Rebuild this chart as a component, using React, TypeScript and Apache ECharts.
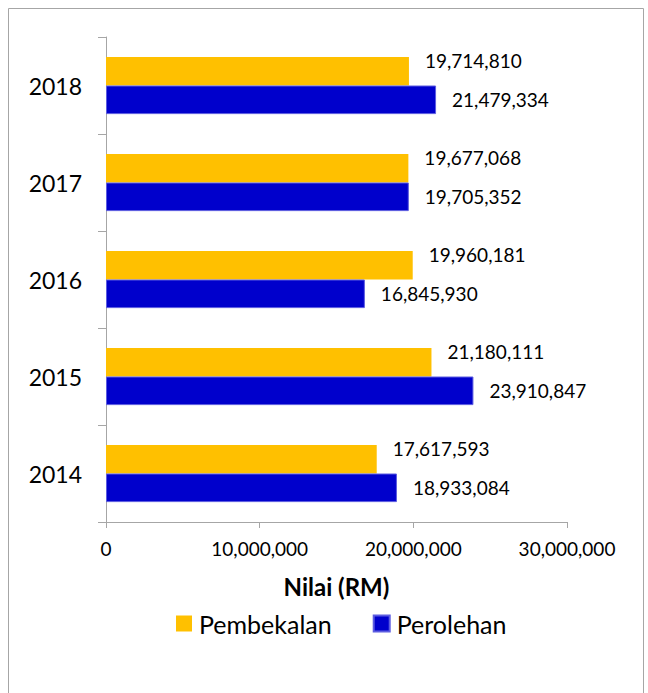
import React, { useEffect, useRef } from "react";
import * as echarts from "echarts";

const categories = ["2014", "2015", "2016", "2017", "2018"];
const pembekalan = [17617593, 21180111, 19960181, 19677068, 19714810];
const perolehan = [18933084, 23910847, 16845930, 19705352, 21479334];
const seriesNames = ["Pembekalan", "Perolehan"];
const FONT = "Lato";

const fmt = (v: number) => Number(v).toLocaleString("en-US");

export default function App() {
  const ref = useRef<HTMLDivElement>(null);
  useEffect(() => {
    if (!ref.current) return;
    const chart = echarts.init(ref.current, null, { renderer: "svg" });
    chart.setOption({
      animation: false,
      textStyle: { fontFamily: FONT, color: "#000" },
      graphic: [
        {
          type: "rect",
          shape: { x: 8.5, y: 8.5, width: 635, height: 700 },
          style: { fill: "none", stroke: "#A6A6A6", lineWidth: 1 },
          silent: true,
        },
      ],
      grid: { left: 106, right: 81, top: 37, bottom: 171 },
      legend: {
        top: 606,
        left: 171,
        itemWidth: 16,
        itemHeight: 16,
        itemGap: 41,
        icon: "rect",
        formatter: (n: string) => "{t|" + n + "}",
        textStyle: {
          fontFamily: FONT,
          fontSize: 25,
          color: "#000",
          rich: { t: { fontFamily: FONT, fontSize: 25, color: "#000", padding: [0, 0, 0, 2] } },
        },
        data: seriesNames,
      },
      xAxis: {
        type: "value",
        min: 0,
        max: 30000000,
        interval: 10000000,
        name: "Nilai (RM)",
        nameLocation: "middle",
        nameGap: 52,
        nameTextStyle: { fontFamily: FONT, fontSize: 24, fontWeight: "bold", color: "#000" },
        axisLine: { show: true, lineStyle: { color: "#A6A6A6", width: 1 } },
        axisTick: { show: true, length: 6, lineStyle: { color: "#A6A6A6" } },
        splitLine: { show: false },
        axisLabel: {
          fontFamily: FONT,
          fontSize: 19,
          color: "#000",
          margin: 17,
          formatter: (v: number) => fmt(v),
        },
      },
      yAxis: {
        type: "category",
        data: categories,
        axisLine: { show: true, lineStyle: { color: "#A6A6A6", width: 1 } },
        axisTick: { show: true, length: 8, lineStyle: { color: "#A6A6A6" } },
        axisLabel: { fontFamily: FONT, fontSize: 23, color: "#000", margin: 24 },
      },
      series: [
        {
          name: seriesNames[0],
          type: "bar",
          data: pembekalan,
          barGap: "0%",
          barCategoryGap: "41%",
          itemStyle: { color: "#FFC000" },
          label: {
            show: true,
            position: "right",
            distance: 16,
            offset: [0, -11],
            fontFamily: FONT,
            fontSize: 19,
            color: "#000",
            formatter: (p: any) => fmt(p.value),
          },
        },
        {
          name: seriesNames[1],
          type: "bar",
          data: perolehan,
          barGap: "0%",
          barCategoryGap: "41%",
          itemStyle: { color: "#0000CC", borderColor: "#5C5CE0", borderWidth: 1 },
          label: {
            show: true,
            position: "right",
            distance: 16,
            fontFamily: FONT,
            fontSize: 19,
            color: "#000",
            formatter: (p: any) => fmt(p.value),
          },
        },
      ],
    });
    return () => chart.dispose();
  }, []);
  return (
    <div
      ref={ref}
      style={{ position: "fixed", left: 0, top: 0, width: 648, height: 693, background: "#fff" }}
    />
  );
}
